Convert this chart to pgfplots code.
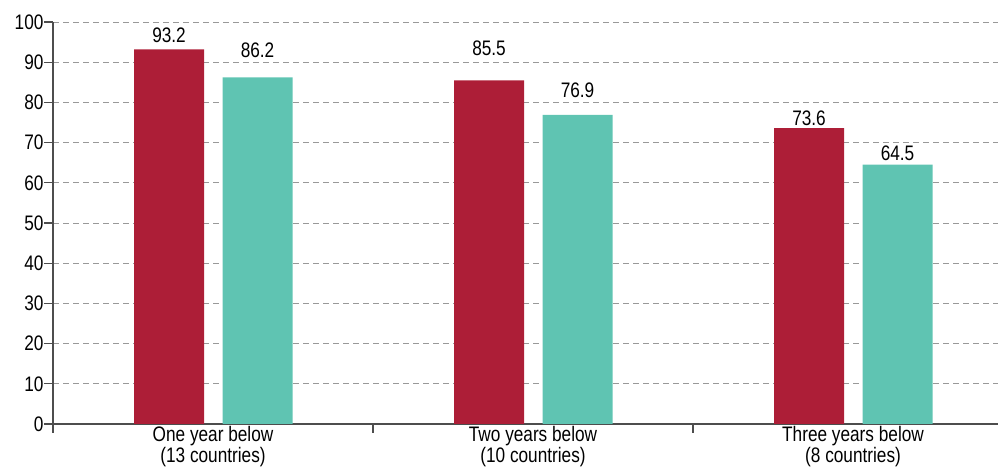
\documentclass[border=0pt]{standalone}
\usepackage{pgfplots}
\usepackage{pgfplotstable}
\pgfplotsset{compat=1.18}
\usepackage{fontspec}
\setmainfont{Liberation Sans}[FakeStretch=0.82]
\definecolor{cred}{HTML}{AD1E37}
\definecolor{cteal}{HTML}{5FC4B2}
\definecolor{axgray}{HTML}{4D4D4D}
\pgfplotstableread{
x y s
0 93.2 3
1 85.5 21
2 73.6 -1
}\tabA
\pgfplotstableread{
x y s
0 86.2 16
1 76.9 14
2 64.5 0
}\tabB
\begin{document}
\begin{tikzpicture}
\useasboundingbox (-53pt,-44pt) rectangle (945pt,424pt);
\begin{axis}[
  scale only axis, width=945pt, height=402pt,
  xmin=-0.5, xmax=2.453, ymin=0, ymax=100,
  ybar, bar width=70pt,
  axis lines*=left,
  axis line style={axgray, line width=1.2pt},
  every tick/.style={axgray, line width=1.2pt},
  tick align=outside,
  ytick={0,10,...,100},
  major tick length=9pt,
  xtick={-0.5,0.5,1.5}, xticklabels={},
  extra x ticks={0,1,2},
  extra x tick labels={{One year below\\(13 countries)},{Two years below\\(10 countries)},{Three years below\\(8 countries)}},
  extra x tick style={major tick length=0pt, grid=none, xticklabel style={align=center, yshift=1pt}},
  ymajorgrids,
  grid style={dash pattern=on 6pt off 4pt, gray!80, line width=0.8pt},
  font=\fontsize{21}{19}\selectfont,
  ticklabel style={font=\fontsize{21}{19}\selectfont},
  yticklabel style={xshift=3pt},
  /pgf/number format/assume math mode=true,
  nodes near coords,
  visualization depends on={\thisrow{s}\as\myshift},
  nodes near coords style={font=\fontsize{21}{19}\selectfont, black, yshift=\myshift pt, /pgf/number format/fixed, /pgf/number format/fixed zerofill, /pgf/number format/precision=1},
]
\addplot[fill=cred, draw=none, bar shift=-44pt] table[x=x, y=y] {\tabA};
\addplot[fill=cteal, draw=none, bar shift=44.5pt] table[x=x, y=y] {\tabB};
\end{axis}
\end{tikzpicture}
\end{document}
